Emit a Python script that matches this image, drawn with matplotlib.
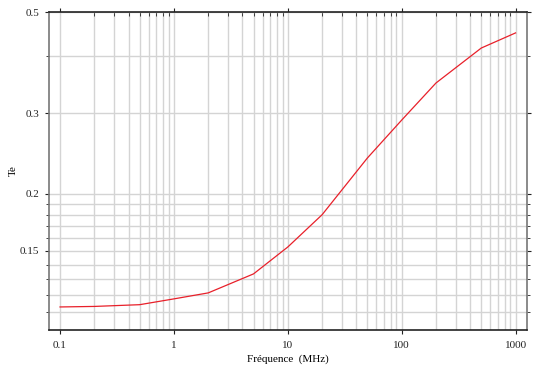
import matplotlib
matplotlib.use("Agg")
import matplotlib.pyplot as plt
from matplotlib.ticker import FixedLocator, FixedFormatter, NullFormatter
import numpy as np

freq_mhz = [0.1, 0.2, 0.5, 1, 2, 5, 10, 20, 50, 100, 200, 500, 1000]
te_values = [0.1131, 0.1134, 0.1144, 0.1178, 0.1214, 0.1336, 0.153, 0.180, 0.2396, 0.290, 0.3496, 0.417, 0.450]

x_major = [0.1, 1, 10, 100, 1000]
x_labels = ["0.1", "1", "10", "100", "1000"]
y_major = [0.15, 0.2, 0.3, 0.5]
y_labels = ["0.15", "0.2", "0.3", "0.5"]
y_minor = [0.11, 0.12, 0.13, 0.14, 0.16, 0.17, 0.18, 0.19, 0.4]

plt.rcParams['font.family'] = ['Liberation Serif', 'DejaVu Serif']
fig = plt.figure(figsize=(5.35, 3.66), dpi=100)
ax = fig.add_axes([49/535, 1-330/366, (527-49)/535, (330-12)/366])

ax.plot(freq_mhz, te_values, color='#e8202a', lw=0.9, zorder=3)
ax.set_xscale('log')
ax.set_yscale('log')
ax.set_xlim(0.08, 1260)
ax.set_ylim(0.1007, 0.5)

x_minor = [m * d for d in [0.1, 1, 10, 100] for m in range(2, 10)] + [2000]
ax.xaxis.set_major_locator(FixedLocator(x_major))
ax.xaxis.set_major_formatter(FixedFormatter(x_labels))
ax.xaxis.set_minor_locator(FixedLocator(x_minor))
ax.xaxis.set_minor_formatter(NullFormatter())
ax.yaxis.set_major_locator(FixedLocator(y_major))
ax.yaxis.set_major_formatter(FixedFormatter(y_labels))
ax.yaxis.set_minor_locator(FixedLocator(y_minor))
ax.yaxis.set_minor_formatter(NullFormatter())

ax.grid(True, which='both', color='#d4d4d4', lw=1.0, zorder=0)
ax.set_axisbelow(True)

ax.tick_params(axis='both', which='both', labelsize=8, colors='#222222')
ax.tick_params(axis='x', which='major', direction='out', length=3, top=True, bottom=True, pad=5)
ax.tick_params(axis='x', which='minor', direction='in', length=3, top=True, bottom=False)
ax.tick_params(axis='y', which='major', direction='out', length=3, left=True, right=True, pad=4)
ax.tick_params(axis='y', which='minor', direction='out', length=2, left=True, right=True)

for s in ['top', 'bottom']:
    ax.spines[s].set_color('#222222')
    ax.spines[s].set_linewidth(1.2)
for s in ['left', 'right']:
    ax.spines[s].set_color('#777777')
    ax.spines[s].set_linewidth(1.2)

ax.set_xlabel('Fréquence  (MHz)', fontsize=8, labelpad=3)
ax.yaxis.set_label_coords(-31/478, 0.42)
ax.set_ylabel('Te', fontsize=8)

fig.savefig('out.png', dpi=100, facecolor='white')
